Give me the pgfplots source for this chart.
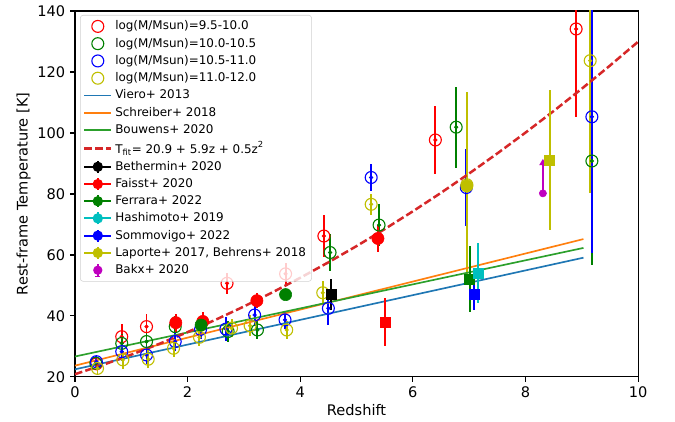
\documentclass[border=0pt]{standalone}
\usepackage{fontspec}
\setmainfont{DejaVu Sans}
\usepackage{pgfplots}
\pgfplotsset{compat=1.18}
\usetikzlibrary{arrows.meta}
\definecolor{mr}{rgb}{1,0,0}
\definecolor{mg}{rgb}{0,0.5,0}
\definecolor{mb}{rgb}{0,0,1}
\definecolor{my}{rgb}{0.75,0.75,0}
\definecolor{mc}{rgb}{0,0.75,0.75}
\definecolor{mm}{rgb}{0.75,0,0.75}
\definecolor{tabblue}{HTML}{1F77B4}
\definecolor{taborange}{HTML}{FF7F0E}
\definecolor{tabgreen}{HTML}{2CA02C}
\definecolor{tabred}{HTML}{D62728}
\pgfplotsset{
  errdot/.style={only marks, mark=*, mark size=1.3pt, color=#1, forget plot, line width=1.4pt,
    mark options={line width=0.4pt},
    error bars/.cd, y dir=both, y explicit, error mark=none,
    error bar style={line width=1.4pt,color=#1}},
  openc/.style={only marks, mark=o, mark size=4.3pt, color=#1, mark options={line width=0.8pt}},
  bigdot/.style={only marks, mark=*, mark size=4.4pt, color=#1, forget plot, line width=1.4pt,
    mark options={line width=0.4pt},
    error bars/.cd, y dir=both, y explicit, error mark=none,
    error bar style={line width=1.4pt,color=#1}},
  sq/.style={only marks, mark=square*, mark size=3.6pt, color=#1, line width=1.4pt,
    mark options={line width=0.4pt},
    legend image code/.code={
      \draw[#1, line width=1.4pt] (0cm,0cm) -- (0.68cm,0cm);
      \draw[#1, line width=1.4pt] (0.34cm,-0.15cm) -- (0.34cm,0.15cm);
      \fill[#1, fill opacity=1] (0.245cm,-0.095cm) rectangle (0.435cm,0.095cm);},
    error bars/.cd, y dir=both, y explicit, error mark=none,
    error bar style={line width=1.4pt,color=#1}},
}
\begin{document}
\begin{tikzpicture}
\useasboundingbox (-54pt,-32.4pt) rectangle (432pt,271.4pt);
\begin{axis}[
  scale only axis, width=405.4pt, height=263.5pt,
  xmin=0, xmax=10, ymin=20, ymax=140,
  xtick={0,2,4,6,8,10}, ytick={20,40,60,80,100,120,140},
  tick align=outside, xtick pos=bottom, ytick pos=left,
  major tick length=3.5pt,
  axis line style={line width=0.8pt},
  tick style={line width=0.8pt, black},
  /pgf/number format/assume math mode=true,
  tick label style={font=\fontsize{10.5}{12}\selectfont},
  label style={font=\fontsize{10.5}{12}\selectfont},
  xlabel={Redshift}, ylabel={Rest-frame Temperature [K]},
  xlabel style={yshift=2pt}, ylabel style={yshift=-2pt},
  legend cell align=left,
  legend image code/.code={\draw[mark repeat=2,mark phase=2,#1] plot coordinates {(0cm,0cm) (0.34cm,0cm) (0.68cm,0cm)};},
  legend style={at={(0.009,0.989)}, anchor=north west, draw=black!18,
    fill=white, fill opacity=0.8, text opacity=1, rounded corners=2pt,
    font=\fontsize{8.6}{10.3}\selectfont, row sep=0.4pt, inner sep=2pt},
]
% ---- mass bins ----
\addplot[errdot=mr] coordinates {(0.38,24.3) +- (0,1.5) (0.83,33.2) +- (0,4) (1.27,36.5) +- (0,4) (2.70,50.7) +- (0,3.5) (3.74,53.8) +- (0,3.5) (4.42,66.2) +- (0,7) (6.40,97.7) +- (0,11.3) (8.90,134.1) +- (0,29)};
\addplot[openc=mr] coordinates {(0.38,24.3) (0.83,33.2) (1.27,36.5) (2.70,50.7) (3.74,53.8) (4.42,66.2) (6.40,97.7) (8.90,134.1)};
\addlegendentry{log(M/Msun)=9.5-10.0}
\addplot[errdot=mg] coordinates {(0.37,24.5) +- (0,1.5) (0.83,31.0) +- (0,3) (1.27,31.6) +- (0,3) (1.78,36.5) +- (0,3.5) (2.72,34.9) +- (0,3.5) (3.24,35.4) +- (0,3) (4.53,60.8) +- (0,6) (5.40,69.8) +- (0,7) (6.77,101.9) +- (0,13.3) (9.18,90.8) +- (0,34)};
\addplot[openc=mg] coordinates {(0.37,24.5) (0.83,31.0) (1.27,31.6) (1.78,36.5) (2.72,34.9) (3.24,35.4) (4.53,60.8) (5.40,69.8) (6.77,101.9) (9.18,90.8)};
\addlegendentry{log(M/Msun)=10.0-10.5}
\addplot[errdot=mb] coordinates {(0.38,25.0) +- (0,2) (0.83,28.3) +- (0,3) (1.27,27.2) +- (0,3) (1.78,31.6) +- (0,3) (2.23,35.6) +- (0,3) (2.68,35.7) +- (0,4) (3.19,40.3) +- (0,3.5) (3.73,38.7) +- (0,3) (4.50,42.5) +- (0,5.5) (5.26,85.4) +- (0,4.4) (6.95,82.1) +- (0,12.5) (9.18,105.3) +- (0,44.6)};
\addplot[openc=mb] coordinates {(0.38,25.0) (0.83,28.3) (1.27,27.2) (1.78,31.6) (2.23,35.6) (2.68,35.7) (3.19,40.3) (3.73,38.7) (4.50,42.5) (5.26,85.4) (6.95,82.1) (9.18,105.3)};
\addlegendentry{log(M/Msun)=10.5-11.0}
\addplot[errdot=my] coordinates {(0.40,22.8) +- (0,2) (0.85,25.6) +- (0,3) (1.30,25.8) +- (0,3) (1.75,29.4) +- (0,3) (2.21,33.0) +- (0,3) (2.78,36.0) +- (0,3) (3.11,36.8) +- (0,3.5) (3.76,35.4) +- (0,3) (4.40,47.6) +- (0,4) (5.26,76.6) +- (0,3.5) (6.96,83.0) +- (0,30.5) (9.15,123.7) +- (0,43.5)};
\addplot[openc=my] coordinates {(0.40,22.8) (0.85,25.6) (1.30,25.8) (1.75,29.4) (2.21,33.0) (2.78,36.0) (3.11,36.8) (3.76,35.4) (4.40,47.6) (5.26,76.6) (6.96,83.0) (9.15,123.7)};
\addlegendentry{log(M/Msun)=11.0-12.0}
% ---- relations ----
\addplot[tabblue, line width=1.2pt] coordinates {(0,22.5) (9.03,59.1)};
\addlegendentry{Viero+ 2013}
\addplot[taborange, line width=1.2pt] coordinates {(0,23.7) (9.03,65.2)};
\addlegendentry{Schreiber+ 2018}
\addplot[tabgreen, line width=1.2pt] coordinates {(0,26.7) (9.03,62.3)};
\addlegendentry{Bouwens+ 2020}
\addplot[tabred, line width=1.8pt, dash pattern=on 5.5pt off 2.3pt] coordinates {(0,20.9) (0.5,23.975) (1,27.3) (1.5,30.875) (2,34.7) (2.5,38.775) (3,43.1) (3.5,47.675) (4,52.5) (4.5,57.575) (5,62.9) (5.5,68.475) (6,74.3) (6.5,80.375) (7,86.7) (7.5,93.275) (8,100.1) (8.5,107.175) (9,114.5) (9.5,122.075) (10,129.9)};
\addlegendentry{T\textsubscript{fit}= 20.9 + 5.9z + 0.5z\textsuperscript{2}}
% ---- large filled points ----
\addplot[bigdot=mr] coordinates {(1.79,37.8) +- (0,3) (2.27,38.2) +- (0,3) (3.23,45.0) +- (0,2.5) (5.38,65.4) +- (0,4.5)};
\addplot[bigdot=mg] coordinates {(2.24,37.0) +- (0,2) (3.74,47.0) +- (0,1.5)};
\addplot[bigdot=my] coordinates {(6.96,82.6) +- (0,0)};
% ---- literature ----
\addplot[sq=black] coordinates {(4.55,47.1) +- (0,5)};
\addlegendentry{Bethermin+ 2020}
\addplot[sq=mr] coordinates {(5.51,38.0) +- (0,8)};
\addlegendentry{Faisst+ 2020}
\addplot[sq=mg] coordinates {(7.01,52.1) +- (0,10.8)};
\addlegendentry{Ferrara+ 2022}
\addplot[sq=mc] coordinates {(7.16,54.0) +- (0,9.8)};
\addlegendentry{Hashimoto+ 2019}
\addplot[sq=mb] coordinates {(7.09,47.1) +- (0,5)};
\addlegendentry{Sommovigo+ 2022}
\addplot[sq=my] coordinates {(8.43,91.1) +- (0,23)};
\addlegendentry{Laporte+ 2017, Behrens+ 2018}
\addplot[only marks, mark=*, mark size=2.6pt, color=mm, line width=1.4pt,
  mark options={line width=0.4pt},
  legend image code/.code={
    \draw[mm, line width=1.4pt] (0.34cm,-0.16cm) -- (0.34cm,0.16cm);
    \draw[mm, line width=0.8pt] (0.28cm,-0.16cm) -- (0.40cm,-0.16cm);
    \fill[mm, fill opacity=1] (0.34cm,0cm) circle (2.6pt);},
  error bars/.cd, y dir=plus, y explicit, error mark=none,
  error bar style={line width=1.4pt, color=mm, -{Triangle[width=5pt,length=4.5pt]}}]
  coordinates {(8.31,80.2) +- (0,11.3)};
\addlegendentry{Bakx+ 2020}
\end{axis}
\end{tikzpicture}
\end{document}
